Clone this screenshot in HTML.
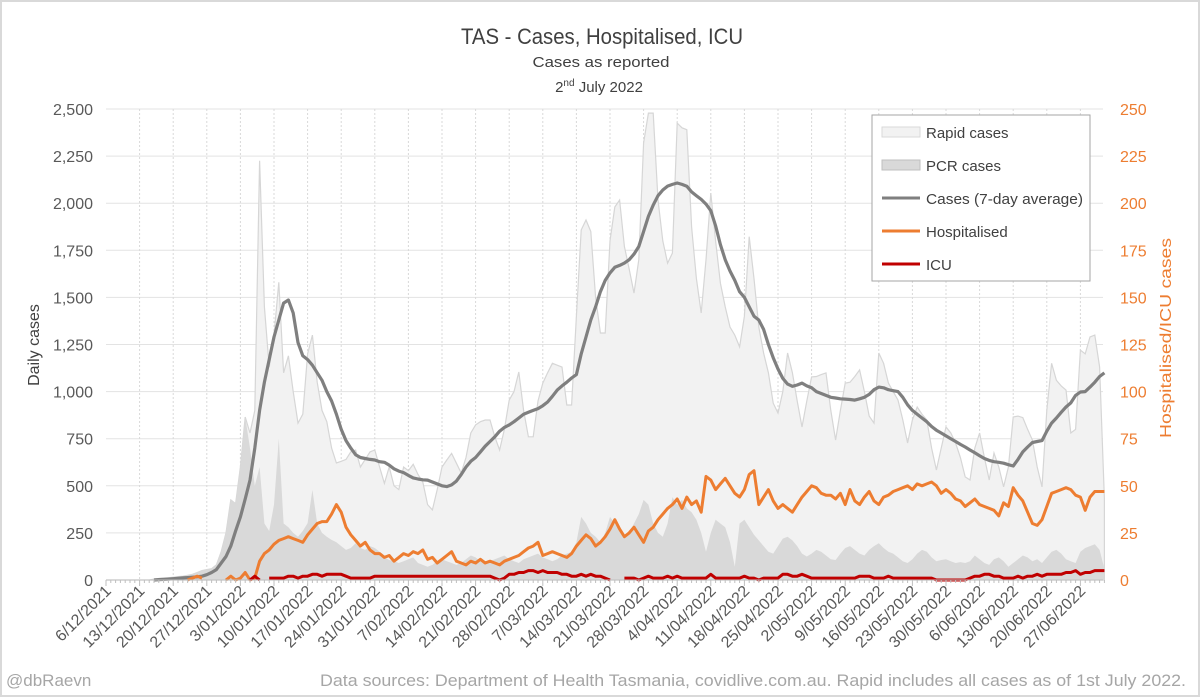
<!DOCTYPE html>
<html><head><meta charset="utf-8"><title>TAS - Cases, Hospitalised, ICU</title>
<style>
html,body{margin:0;padding:0;background:#fff;}
svg{display:block;font-family:"Liberation Sans",sans-serif;}
</style></head>
<body>
<svg id="chart" width="1200" height="697" viewBox="0 0 1200 697" xmlns="http://www.w3.org/2000/svg">
<rect x="0" y="0" width="1200" height="697" fill="#fff"/>
<rect x="1" y="1" width="1198" height="695" fill="none" stroke="#d9d9d9" stroke-width="2"/>
<text x="602" y="44" text-anchor="middle" font-size="22" fill="#404040" textLength="282" lengthAdjust="spacingAndGlyphs">TAS - Cases, Hospitalised, ICU</text>
<text x="601" y="67" text-anchor="middle" font-size="15" fill="#404040" textLength="137" lengthAdjust="spacingAndGlyphs">Cases as reported</text>
<text x="599" y="92" text-anchor="middle" font-size="15" fill="#404040">2<tspan font-size="10" dy="-6">nd</tspan><tspan dy="6"> July 2022</tspan></text>
<g id="grid"></g>
<g id="areas"></g>
<g id="lines"></g>
<g id="axes"></g>
<text transform="translate(39,345) rotate(-90)" text-anchor="middle" font-size="16" fill="#404040">Daily cases</text>
<text transform="translate(1171,338) rotate(-90)" text-anchor="middle" font-size="16" fill="#ED7D31" textLength="200" lengthAdjust="spacingAndGlyphs">Hospitalised/ICU cases</text>
<g id="legend">
<rect x="872" y="115" width="218" height="166" fill="#fff" stroke="#a6a6a6" stroke-width="1"/>
<g><rect x="882" y="127" width="38" height="10" fill="#f2f2f2" stroke="#d9d9d9"/><text x="926" y="138" font-size="15" fill="#404040">Rapid cases</text></g>
<g><rect x="882" y="160" width="38" height="10" fill="#d9d9d9" stroke="#bfbfbf"/><text x="926" y="171" font-size="15" fill="#404040">PCR cases</text></g>
<g><line x1="882" y1="198" x2="920" y2="198" stroke="#7f7f7f" stroke-width="3"/><text x="926" y="204" font-size="15" fill="#404040" textLength="157" lengthAdjust="spacingAndGlyphs">Cases (7-day average)</text></g>
<g><line x1="882" y1="231" x2="920" y2="231" stroke="#ED7D31" stroke-width="3"/><text x="926" y="237" font-size="15" fill="#404040">Hospitalised</text></g>
<g><line x1="882" y1="264" x2="920" y2="264" stroke="#C00000" stroke-width="3"/><text x="926" y="270" font-size="15" fill="#404040">ICU</text></g>
</g>
<text x="6" y="686" font-size="17" fill="#a6a6a6">@dbRaevn</text>
<text x="1186" y="686" text-anchor="end" font-size="17" fill="#a6a6a6" textLength="866" lengthAdjust="spacingAndGlyphs">Data sources: Department of Health Tasmania, covidlive.com.au. Rapid includes all cases as of 1st July 2022.</text>
</svg>
<script>
const weekLabels = ["6/12/2021","13/12/2021","20/12/2021","27/12/2021","3/01/2022","10/01/2022","17/01/2022","24/01/2022","31/01/2022","7/02/2022","14/02/2022","21/02/2022","28/02/2022","7/03/2022","14/03/2022","21/03/2022","28/03/2022","4/04/2022","11/04/2022","18/04/2022","25/04/2022","2/05/2022","9/05/2022","16/05/2022","23/05/2022","30/05/2022","6/06/2022","13/06/2022","20/06/2022","27/06/2022"];
const leftTicks = [0,250,500,750,1000,1250,1500,1750,2000,2250,2500];
const rightTicks = [0,25,50,75,100,125,150,175,200,225,250];
const totalCases = [
0,0,0,0,0,0,0,0,0,0,
5,8,10,12,15,18,20,25,30,40,
50,55,60,80,150,250,425,405,600,865,
780,900,2225,1450,1130,1300,1580,1100,1190,1000,
833,880,1200,1300,1050,900,840,700,621,630,
640,680,690,600,640,680,690,600,513,600,
500,480,600,580,614,560,520,400,372,480,
600,637,672,620,568,650,780,823,840,849,
849,760,690,800,955,1000,1104,900,760,760,
950,1045,1100,1150,1140,1130,929,929,1400,1858,
1911,1850,1500,1311,1311,1800,1980,2017,1770,1650,
1523,1700,2320,2478,2478,2017,1800,1682,1735,2425,
2400,2390,1874,1600,1417,1700,2054,1800,1576,1450,
1343,1300,1237,1400,1822,1600,1343,1205,1100,939,
886,1000,1205,1100,950,812,950,1078,1080,1090,
1099,900,743,900,1045,1050,1080,1115,1000,870,
833,1205,1150,1045,1000,955,850,727,850,918,
880,849,700,584,700,812,780,727,650,547,
531,700,780,650,531,674,600,494,600,865,
870,862,800,743,600,494,900,1150,1060,1030,
1008,780,800,1220,1200,1290,1300,1131,430];
const pcrCases = [
0,0,0,0,0,0,0,0,0,0,
5,8,10,12,15,18,20,25,30,40,
50,55,60,80,150,250,425,405,600,865,
700,500,600,300,260,400,750,300,280,250,
230,260,302,478,300,250,230,213,200,180,
160,170,195,170,160,180,170,150,120,106,
100,90,100,110,120,90,80,70,80,100,
110,100,90,80,90,110,130,120,100,90,
100,110,120,130,110,100,90,110,120,130,
140,120,110,100,110,130,140,150,200,335,
300,250,230,200,250,335,300,265,230,250,
300,350,425,400,300,250,230,300,440,400,
425,380,360,320,250,150,250,320,300,280,
200,70,300,320,280,240,210,180,150,140,
180,220,230,210,180,140,125,140,160,150,
130,110,106,140,170,180,160,140,130,160,
180,195,170,150,140,120,100,90,110,140,
160,150,120,100,106,110,100,90,95,90,
100,130,110,90,80,110,120,100,70,90,
110,130,120,100,110,90,120,150,160,140,
110,100,90,150,170,180,190,160,60];
const avgCases = [
null,null,null,null,null,null,null,null,null,null,
0,2,3,5,7,9,11,13,15,17,
20,28,40,55,90,125,180,260,335,430,
530,700,900,1050,1170,1290,1380,1470,1486,1417,
1260,1190,1170,1140,1100,1060,1000,950,880,800,
740,700,665,650,645,640,637,628,625,610,
590,578,570,555,542,536,532,530,520,510,
500,496,505,525,560,600,630,650,680,710,
735,760,790,810,823,840,860,880,890,900,
910,925,945,975,1008,1030,1050,1072,1090,1200,
1290,1380,1450,1530,1590,1630,1660,1670,1682,1700,
1730,1770,1850,1930,1990,2040,2070,2091,2100,2107,
2100,2090,2060,2040,2020,1995,1960,1880,1780,1700,
1640,1590,1530,1500,1450,1400,1380,1330,1250,1180,
1120,1070,1040,1028,1035,1045,1030,1020,1000,990,
980,970,966,962,960,958,955,962,970,985,
1010,1024,1020,1010,1005,1000,970,930,900,880,
860,840,815,795,780,765,750,735,720,706,
690,675,660,645,635,628,625,620,612,605,
640,680,706,730,735,740,790,833,860,890,
918,940,980,998,1000,1024,1050,1080,1099];
const hospitalised = [
null,null,null,null,null,null,null,null,null,null,
null,null,null,null,null,null,null,0,1,2,
1,null,null,null,null,0,2,0,1,4,
0,1,10,14,16,19,21,22,23,22,
21,20,24,27,30,31,31,35,40,36,
28,24,21,18,20,16,14,14,12,13,
10,12,14,13,15,14,16,11,12,9,
11,13,15,10,9,8,10,9,11,9,
10,9,8,10,11,12,13,15,17,18,
20,13,14,15,14,13,12,14,18,21,
24,22,18,20,23,27,32,27,23,25,
28,24,20,26,28,32,35,38,40,43,
38,44,40,42,36,55,53,48,51,54,
50,46,44,48,56,58,40,44,48,42,
38,40,38,36,40,44,47,50,49,46,
45,45,43,46,40,48,42,40,44,47,
42,40,44,45,47,48,49,50,48,51,
50,51,52,50,46,48,46,43,42,39,
41,43,40,39,38,37,34,41,39,49,
45,42,36,30,29,32,39,46,47,48,
49,48,45,44,37,44,47,47,47];
const icu = [
null,null,null,null,null,null,null,null,null,null,
null,null,null,null,null,null,null,null,null,null,
null,null,null,null,null,null,null,null,null,null,
0,2,0,null,1,1,1,1,2,2,
1,2,2,3,3,2,3,3,3,3,
2,1,1,1,1,1,2,2,2,2,
2,2,2,2,2,2,2,2,2,2,
2,2,2,2,2,2,2,2,2,2,
2,1,0,1,3,3,4,4,5,5,
4,5,4,4,4,3,3,2,2,3,
2,3,2,2,1,0,null,null,1,1,
1,0,1,2,1,1,1,2,1,2,
1,1,1,1,1,1,3,1,1,1,
1,1,1,2,1,1,0,1,1,1,
1,3,3,2,2,3,2,1,1,1,
1,1,1,1,1,1,1,2,2,2,
1,1,1,2,1,1,1,1,1,1,
1,1,1,0,0,0,0,0,0,0,
1,2,2,3,3,2,2,1,1,1,
2,1,2,2,3,2,3,3,3,3,
4,4,5,3,4,4,5,5,5];

const NS = "http://www.w3.org/2000/svg";
const X0 = 106, DX = 4.8, Y0 = 580, YTOP = 109, LMAX = 2500, RMAX = 250;
const nDays = totalCases.length;
function xs(i){ return X0 + i*DX; }
function yl(v){ return Y0 - v/LMAX*(Y0-YTOP); }
function yr(v){ return Y0 - v/RMAX*(Y0-YTOP); }
function mk(tag, attrs, parent){
  const e = document.createElementNS(NS, tag);
  for (const k in attrs) e.setAttribute(k, attrs[k]);
  parent.appendChild(e);
  return e;
}
const grid = document.getElementById('grid');
const areas = document.getElementById('areas');
const lines = document.getElementById('lines');
const axes = document.getElementById('axes');

// horizontal gridlines and left/right tick labels
leftTicks.forEach((t, k) => {
  const y = yl(t);
  if (t > 0) {
    const g = mk('line', {x1: X0, x2: 1103, y1: y, y2: y, stroke: '#e3e3e3', 'stroke-width': 1}, grid);
    
    
  }
  const lab = mk('text', {x: 93, y: y + 6, 'text-anchor': 'end', 'font-size': 16, fill: '#595959'}, axes);
  lab.textContent = t.toLocaleString('en-US');
  
  
});
rightTicks.forEach((t) => {
  const y = yr(t);
  const lab = mk('text', {x: 1120, y: y + 6, 'text-anchor': 'start', 'font-size': 16, fill: '#ED7D31'}, axes);
  lab.textContent = String(t);
  
  
});
// vertical weekly gridlines + labels
weekLabels.forEach((lbl, w) => {
  const x = xs(w*7);
  if (w > 0) {
    const g = mk('line', {x1: x, x2: x, y1: YTOP, y2: Y0, stroke: '#d9d9d9', 'stroke-width': 1, 'stroke-dasharray': '2,2'}, grid);
    
    
  }
  const t = mk('text', {transform: 'translate(' + (x + 6) + ',592) rotate(-45)', 'text-anchor': 'end', 'font-size': 16, fill: '#595959'}, axes);
  t.textContent = lbl;
  
  
});
// axis line and minor ticks
const ax = mk('line', {x1: X0, x2: 1103, y1: Y0, y2: Y0, stroke: '#bfbfbf', 'stroke-width': 1}, axes);


for (let i = 0; i < nDays; i++) {
  const big = i % 7 === 0;
  const tk = mk('line', {x1: xs(i), x2: xs(i), y1: Y0, y2: Y0 + (big ? 6 : 3), stroke: '#bfbfbf', 'stroke-width': 1}, axes);
  
  
}

function areaPath(arr){
  let d = 'M' + xs(0) + ',' + Y0;
  arr.forEach((v, i) => { d += ' L' + xs(i).toFixed(1) + ',' + yl(v || 0).toFixed(1); });
  d += ' L' + xs(arr.length - 1) + ',' + Y0 + ' Z';
  return d;
}
function linePath(arr, yf){
  let d = '', pen = false;
  arr.forEach((v, i) => {
    if (v === null) { pen = false; return; }
    d += (pen ? ' L' : ' M') + xs(i).toFixed(1) + ',' + yf(v).toFixed(1);
    pen = true;
  });
  return d;
}
const rapid = mk('path', {d: areaPath(totalCases), fill: '#f2f2f2', stroke: '#d6d6d6', 'stroke-width': 1.2}, areas);


const pcr = mk('path', {d: areaPath(pcrCases), fill: '#d9d9d9', stroke: 'none'}, areas);


const avg = mk('path', {d: linePath(avgCases, yl), fill: 'none', stroke: '#7f7f7f', 'stroke-width': 3.2, 'stroke-linejoin': 'round'}, lines);


const hosp = mk('path', {d: linePath(hospitalised, yr), fill: 'none', stroke: '#ED7D31', 'stroke-width': 3, 'stroke-linejoin': 'round'}, lines);


const icuL = mk('path', {d: linePath(icu, yr), fill: 'none', stroke: '#C00000', 'stroke-width': 3, 'stroke-linejoin': 'round'}, lines);


</script>
</body></html>
